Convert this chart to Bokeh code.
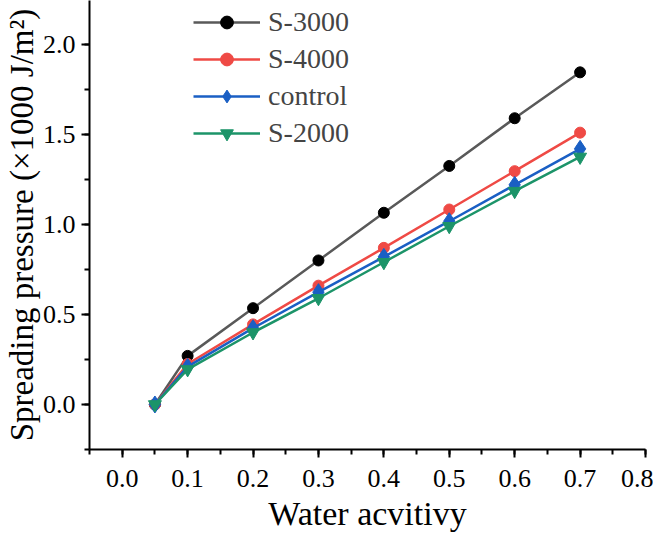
from bokeh.plotting import figure
from bokeh.models import Range1d, SingleIntervalTicker, PrintfTickFormatter, Legend, LegendItem
from bokeh.embed import file_html
from bokeh.resources import INLINE

# ---- data ----
water_activity = [0.05, 0.1, 0.2, 0.3, 0.4, 0.5, 0.6, 0.7]
s3000 = [0.0, 0.27, 0.535, 0.80, 1.065, 1.325, 1.59, 1.845]
s4000 = [0.0, 0.225, 0.445, 0.66, 0.87, 1.083, 1.296, 1.51]
control = [0.0, 0.21, 0.424, 0.624, 0.82, 1.018, 1.22, 1.42]
s2000 = [0.0, 0.195, 0.40, 0.59, 0.79, 0.99, 1.185, 1.375]

series_names = ["S-3000", "S-4000", "control", "S-2000"]
x_ticks_interval = 0.1
y_ticks_interval = 0.5

FONT = "Liberation Serif"

p = figure(width=653, height=534, output_backend="svg", toolbar_location=None,
           x_range=Range1d(-0.05, 0.8), y_range=Range1d(-0.25, 2.244),
           min_border_left=83, min_border_right=8, min_border_top=0, min_border_bottom=85)

p.outline_line_color = None
p.xgrid.visible = False
p.ygrid.visible = False
p.background_fill_color = "white"

styles = [
    (s3000, "#595959", "#000000", "circle", 11),
    (s4000, "#EF4A45", "#EF4A45", "circle", 11),
    (control, "#1A5FC4", "#1A5FC4", "diamond", 17),
    (s2000, "#1C9469", "#1C9469", "inverted_triangle", 13),
]

items = []
for name, (ys, lc, mc, marker, size) in zip(series_names, styles):
    r1 = p.line(water_activity, ys, line_color=lc, line_width=2.5)
    r2 = p.scatter(water_activity, ys, marker=marker, size=size,
                   fill_color=mc, line_color=mc)
    items.append(LegendItem(label=name, renderers=[r1, r2]))

legend = Legend(items=items, location=(104, 300), padding=0, margin=0,
                border_line_color=None, background_fill_alpha=0,
                label_text_font=FONT, label_text_font_size="28px",
                glyph_width=67, glyph_height=32, label_height=32,
                spacing=5, label_standoff=8)
p.add_layout(legend)

for ax in (p.xaxis[0], p.yaxis[0]):
    ax.axis_line_color = "black"
    ax.axis_line_width = 2
    ax.major_tick_line_color = "black"
    ax.major_tick_line_width = 2
    ax.minor_tick_line_color = "black"
    ax.minor_tick_line_width = 2
    ax.major_tick_in = 0
    ax.major_tick_out = 8
    ax.minor_tick_in = 0
    ax.minor_tick_out = 5
    ax.major_label_text_font = FONT
    ax.major_label_text_font_size = "26px"
    ax.major_label_text_color = "black"
    ax.axis_label_text_font = FONT
    ax.axis_label_text_font_style = "normal"
    ax.axis_label_text_color = "black"
    ax.formatter = PrintfTickFormatter(format="%.1f")

p.xaxis[0].axis_label_text_font_size = "34px"
p.yaxis[0].axis_label_text_font_size = "33px"
p.xaxis[0].ticker = SingleIntervalTicker(interval=x_ticks_interval, num_minor_ticks=2)
p.yaxis[0].ticker = SingleIntervalTicker(interval=y_ticks_interval, num_minor_ticks=2)
p.xaxis[0].axis_label = "Water acvitivy"
p.yaxis[0].axis_label = "Spreading pressure (×1000 J/m²)"
p.xaxis[0].major_label_standoff = 12
p.yaxis[0].major_label_standoff = 6
p.xaxis[0].axis_label_standoff = 5
p.yaxis[0].axis_label_standoff = 0

open("out.html", "w").write(file_html(p, INLINE))
